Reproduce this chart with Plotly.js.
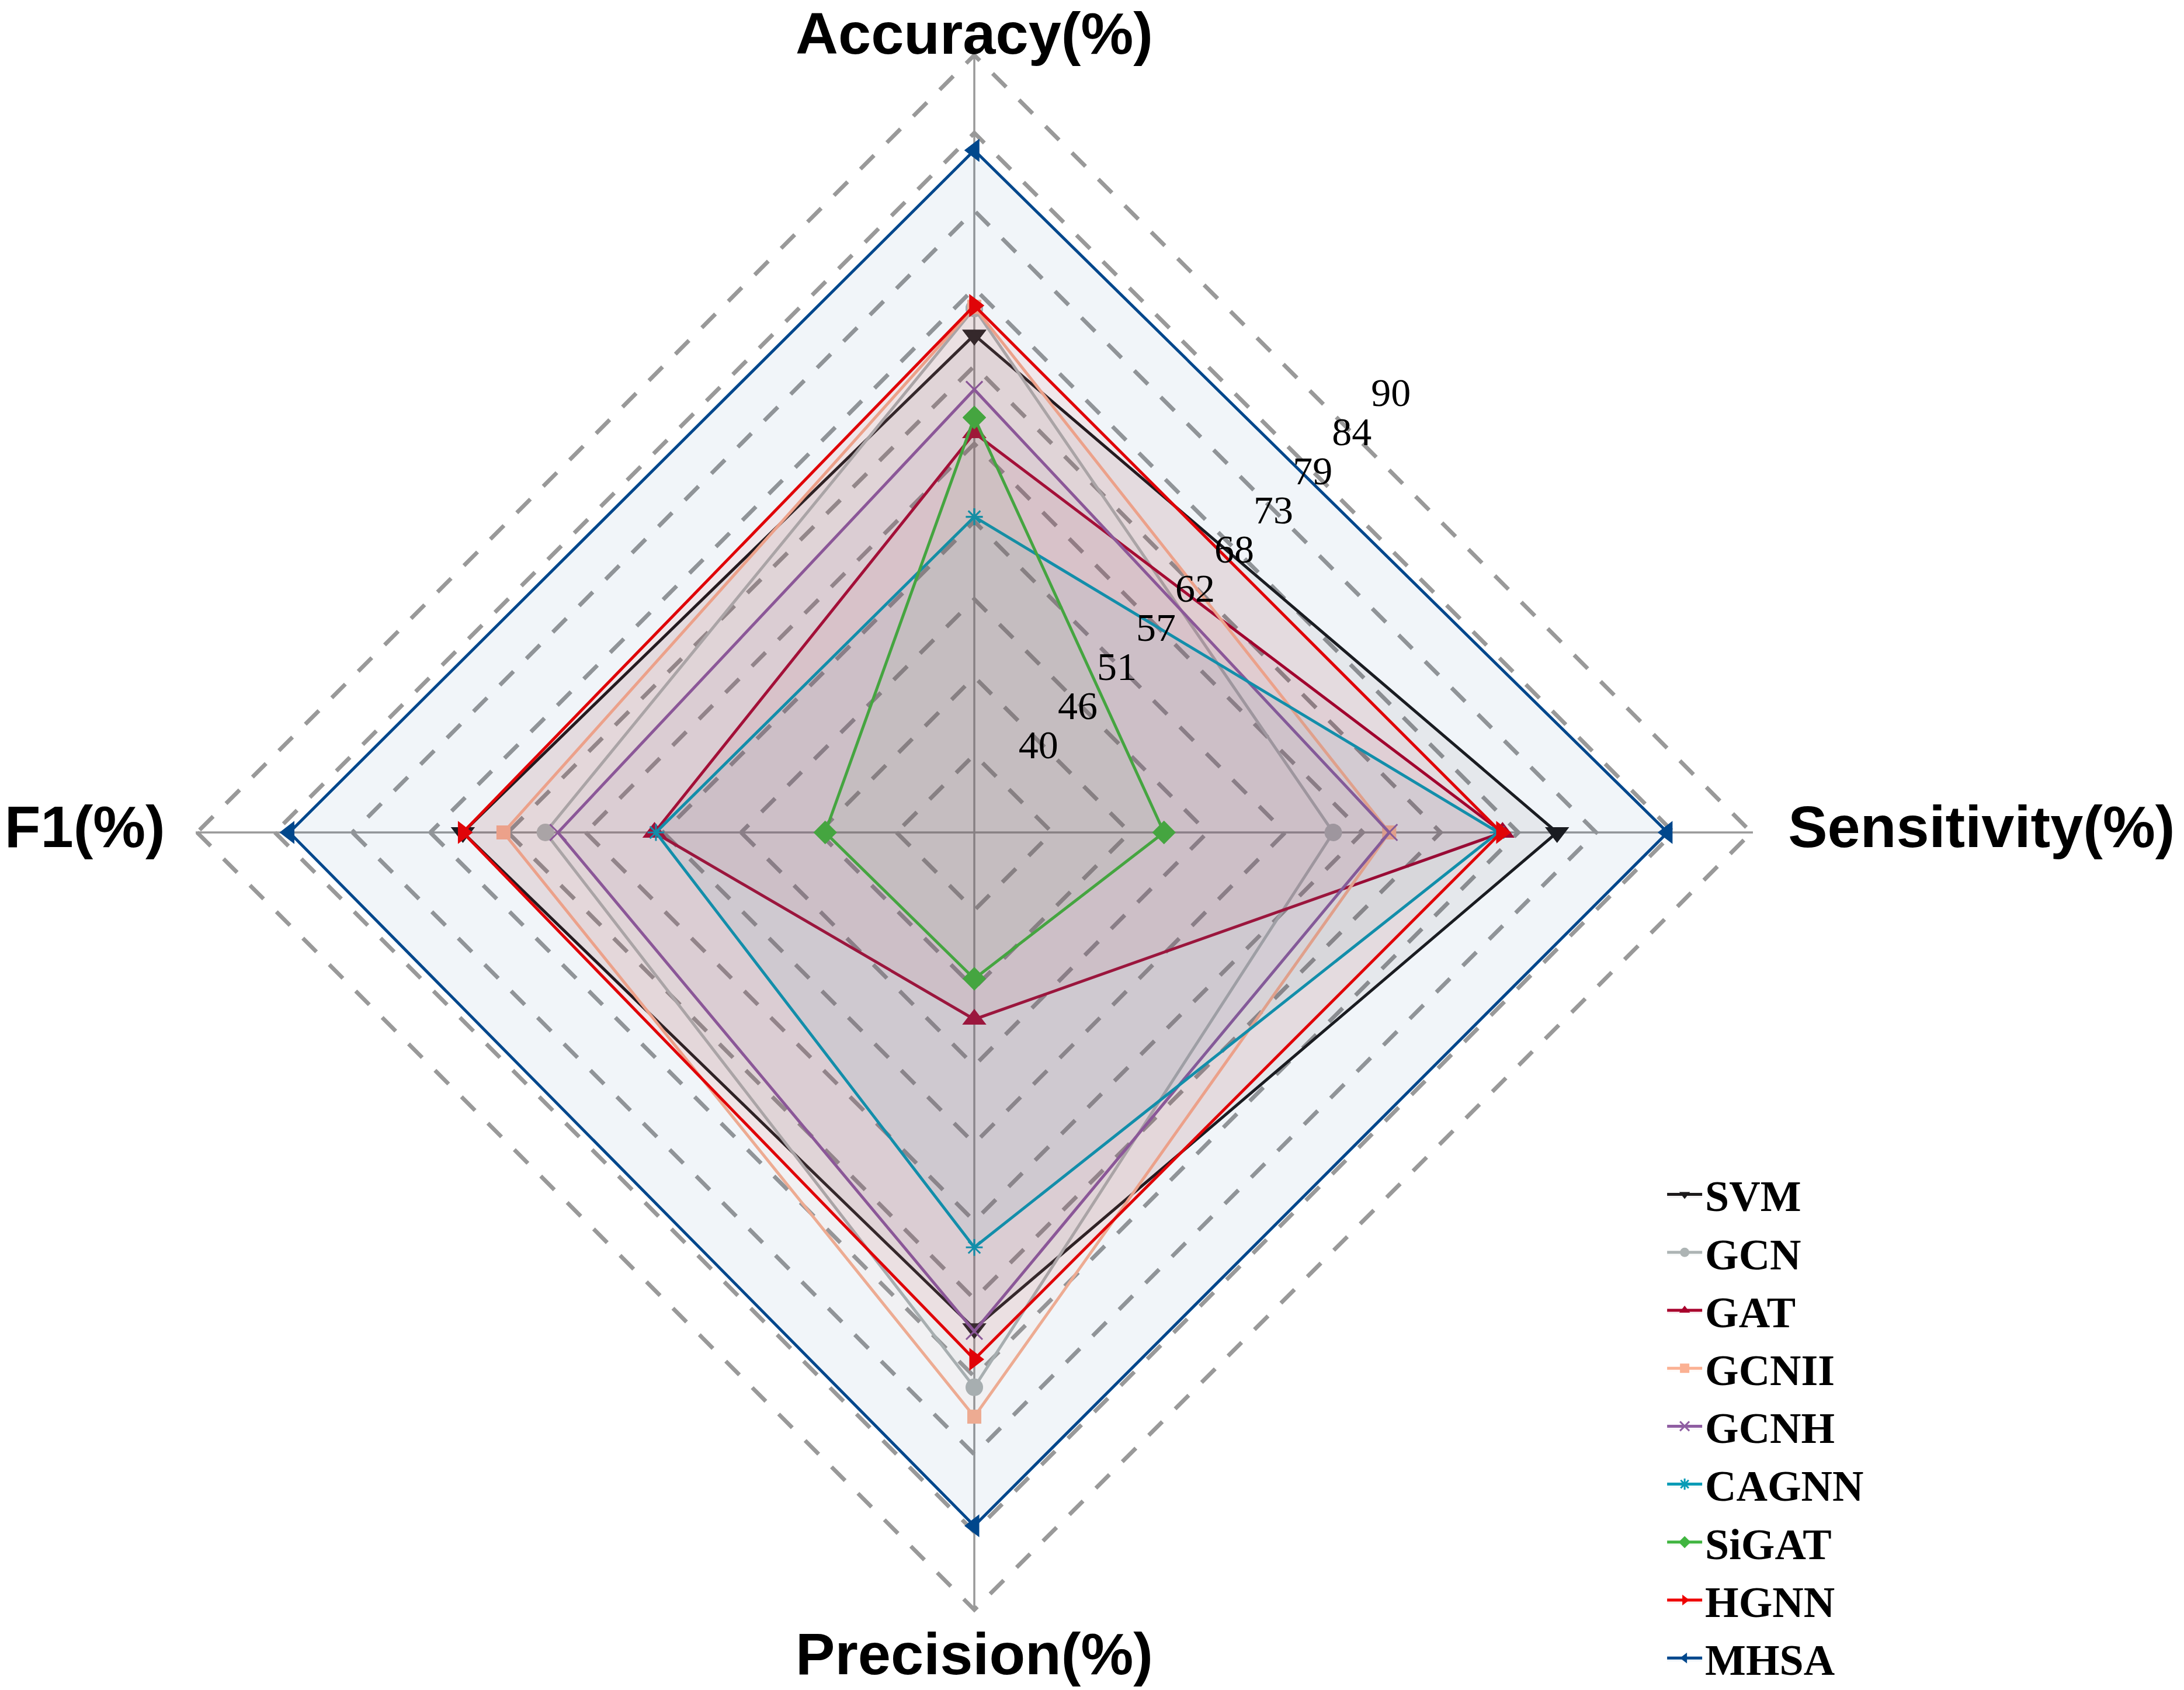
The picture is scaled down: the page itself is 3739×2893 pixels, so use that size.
<!DOCTYPE html>
<html>
<head>
<meta charset="utf-8">
<script src="https://cdn.plot.ly/plotly-3.0.1.min.js"></script>
<style>html,body{margin:0;padding:0;background:#fff;}#chart{width:3739px;height:2893px;}</style>
</head>
<body>
<div id="chart"></div>
<script>
// ---- data ----
const categories = ["Accuracy(%)", "Sensitivity(%)", "Precision(%)", "F1(%)"];
const modelNames = ["SVM", "GCN", "GAT", "GCNII", "GCNH", "CAGNN", "SiGAT", "HGNN", "MHSA"];
const svmValues   = [70.0, 76.1, 69.9, 71.0];
const gcnValues   = [71.9, 60.1, 74.1, 65.1];
const gatValues   = [63.0, 72.2, 47.8, 57.3];
const gcniiValues = [72.0, 64.1, 76.2, 68.1];
const gcnhValues  = [66.1, 64.1, 70.1, 64.2];
const cagnnValues = [57.0, 71.9, 64.1, 57.2];
const sigatValues = [64.1, 48.0, 44.9, 45.1];
const hgnnValues  = [72.1, 72.1, 72.1, 71.0];
const mhsaValues  = [83.2, 84.0, 84.0, 83.4];
const radialTickVals = [40, 45.56, 51.11, 56.67, 62.22, 67.78, 73.33, 78.89, 84.44, 90];
const radialTickText = ["40", "46", "51", "57", "62", "68", "73", "79", "84", "90"];
const radialMin = 34.44;

// ---- positions & styles (not data) ----
const categoryLabelRadius = [89.05, 92.61, 91.46, 92.28];
const categoryLabelPosition = ["top center", "middle right", "bottom center", "middle left"];
const seriesValues = [svmValues, gcnValues, gatValues, gcniiValues, gcnhValues, cagnnValues, sigatValues, hgnnValues, mhsaValues];
const colors = ["#1c1a1b", "#adb4b4", "#a8002c", "#fbb193", "#8f5ea2", "#089bb6", "#40b540", "#ee0000", "#00478c"];
const symbols = ["triangle-down", "circle", "triangle-up", "square", "x-thin-open", "asterisk-open", "diamond", "triangle-right", "triangle-left"];
const sizes = [36, 30, 36, 24, 28, 24, 31, 34, 34];
const lineW = [0, 0, 0, 0, 3, 3, 0, 0, 0];

function hexToRgba(h, a) {
  const r = parseInt(h.slice(1, 3), 16), g = parseInt(h.slice(3, 5), 16), b = parseInt(h.slice(5, 7), 16);
  return `rgba(${r},${g},${b},${a})`;
}

const traces = modelNames.map((name, i) => ({
  type: "scatterpolar",
  subplot: "polar",
  name: name,
  r: seriesValues[i].concat([seriesValues[i][0]]),
  theta: categories.concat([categories[0]]),
  mode: "lines+markers",
  fill: "toself",
  fillcolor: hexToRgba(colors[i], 0.055),
  line: { color: colors[i], width: 5 },
  marker: { symbol: symbols[i], size: sizes[i], color: colors[i], line: { color: colors[i], width: lineW[i] } },
  cliponaxis: false,
  hoverinfo: "skip"
}));

// radial tick labels, drawn along the 45 degree diagonal
traces.push({
  type: "scatterpolar",
  subplot: "polar2",
  r: radialTickVals,
  theta: radialTickVals.map(() => 45),
  text: radialTickText,
  mode: "text",
  textposition: "top center",
  textfont: { family: "Liberation Serif, Times New Roman, serif", size: 68, color: "#000" },
  showlegend: false,
  cliponaxis: false,
  hoverinfo: "skip"
});

// category (axis) labels just outside each vertex (same radial scale as the chart)
traces.push({
  type: "scatterpolar",
  subplot: "polar3",
  r: categoryLabelRadius,
  theta: categories,
  text: categories,
  mode: "text",
  textposition: categoryLabelPosition,
  textfont: { family: "Liberation Sans, Arial, sans-serif", size: 101, color: "#000", weight: "bold" },
  showlegend: false,
  cliponaxis: false,
  hoverinfo: "skip"
});

const dom = { x: [0.08960, 0.80262], y: [0.04666, 0.96820] };
const domWide = { x: [0.064991, 0.827227], y: [0.014864, 1.0] };

const layout = {
  width: 3739,
  height: 2893,
  margin: { l: 0, r: 0, t: 0, b: 0, autoexpand: false },
  paper_bgcolor: "#fff",
  showlegend: true,
  polar: {
    domain: dom,
    bgcolor: "rgba(0,0,0,0)",
    gridshape: "linear",
    radialaxis: {
      range: [radialMin, 90.1],
      tickvals: radialTickVals,
      ticktext: radialTickText,
      showticklabels: false,
      ticks: "",
      showline: false,
      showgrid: true,
      gridcolor: "#999999",
      gridwidth: 7,
      griddash: "33px,31px",
      angle: 90
    },
    angularaxis: {
      type: "category",
      categoryarray: categories,
      rotation: 90,
      direction: "clockwise",
      showline: false,
      showgrid: true,
      gridcolor: "#999999",
      gridwidth: 3.5,
      ticks: "",
      showticklabels: false
    }
  },
  polar2: {
    domain: dom,
    bgcolor: "rgba(0,0,0,0)",
    radialaxis: { visible: false, range: [30.9, 109.0] },
    angularaxis: { visible: false, rotation: 0, direction: "counterclockwise" }
  },
  polar3: {
    domain: domWide,
    bgcolor: "rgba(0,0,0,0)",
    radialaxis: { visible: false, range: [radialMin, 93.94] },
    angularaxis: { visible: false, type: "category", categoryarray: categories, rotation: 90, direction: "clockwise" }
  },
  legend: {
    x: 0.762,
    y: 0.0,
    xanchor: "left",
    yanchor: "bottom",
    bgcolor: "rgba(0,0,0,0)",
    font: { family: "Liberation Serif, Times New Roman, serif", size: 74, color: "#000", weight: "bold" },
    tracegroupgap: 0,
    itemwidth: 60
  }
};

Plotly.newPlot("chart", traces, layout, { displayModeBar: false, staticPlot: true });
</script>
</body>
</html>
